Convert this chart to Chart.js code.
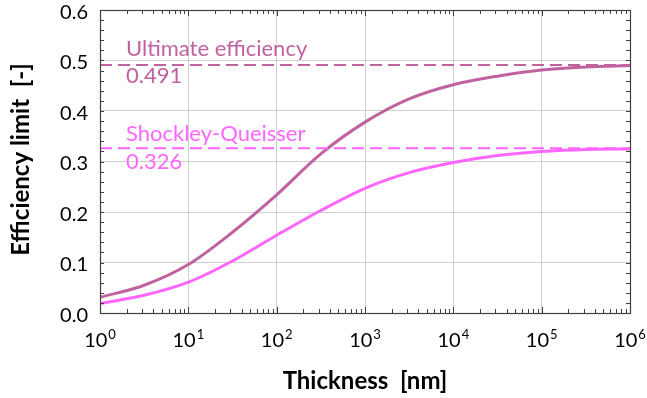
<!DOCTYPE html>
<html>
<head>
<meta charset="utf-8">
<script src="https://cdn.jsdelivr.net/npm/chart.js@4"></script>
<style>
  html, body { margin: 0; padding: 0; background: #fff; }
  canvas { display: block; }
</style>
</head>
<body>
<canvas id="chart" width="647" height="398"></canvas>
<script>
// thickness in nm (log axis), efficiency limits
const thickness = [1, 3.16, 10, 31.6, 100, 316, 1000, 3162, 10000, 31623, 100000, 316228, 1000000];
const ultimate = [0.031, 0.055, 0.096, 0.160, 0.234, 0.315, 0.378, 0.424, 0.452, 0.469, 0.481, 0.487, 0.490];
const shockley = [0.019, 0.035, 0.061, 0.103, 0.154, 0.203, 0.247, 0.278, 0.298, 0.312, 0.320, 0.324, 0.325];

const ultimateLimit = 0.491;
const sqLimit = 0.326;
const limitLabels = ["Ultimate efficiency", "Shockley-Queisser"];

const xExponents = [0, 1, 2, 3, 4, 5, 6];
const yTicks = [0, 0.1, 0.2, 0.3, 0.4, 0.5, 0.6];

const colUlt = '#c0629f';
const colSQ = '#ff66ff';
const font = 'Lato, "Open Sans", sans-serif';

const xRange = [thickness[0], thickness[thickness.length - 1]];

// axis labels, box, inward ticks and limit captions
const decorations = {
    id: 'decorations',
    afterDraw(chart) {
        const ctx = chart.ctx;
        const xs = chart.scales.x, ys = chart.scales.y;
        const a = chart.chartArea;
        ctx.save();

        // inward minor ticks
        ctx.strokeStyle = '#404040';
        ctx.lineWidth = 1;
        ctx.beginPath();
        for (let v = 0; v <= 0.6001; v += 0.02) {
            const y = Math.round(ys.getPixelForValue(v)) + 0.5;
            ctx.moveTo(a.left, y); ctx.lineTo(a.left + 4, y);
            ctx.moveTo(a.right, y); ctx.lineTo(a.right - 4, y);
        }
        for (let k = 0; k < xExponents.length - 1; k++) {
            for (let m = 1; m <= 9; m++) {
                const x = Math.round(xs.getPixelForValue(m * Math.pow(10, k))) + 0.5;
                const len = m === 1 ? 6 : 4;
                ctx.moveTo(x, a.bottom); ctx.lineTo(x, a.bottom - len);
                ctx.moveTo(x, a.top); ctx.lineTo(x, a.top + len);
            }
        }
        ctx.stroke();

        // box
        ctx.strokeStyle = '#404040';
        ctx.lineWidth = 1.2;
        ctx.strokeRect(Math.round(a.left) + 0.5, Math.round(a.top) + 0.5,
            Math.round(a.right - a.left), Math.round(a.bottom - a.top));

        // y tick labels
        ctx.fillStyle = '#000';
        ctx.font = '20px ' + font;
        ctx.textAlign = 'right';
        ctx.textBaseline = 'alphabetic';
        yTicks.forEach(v => {
            ctx.fillText(v.toFixed(1), a.left - 12, ys.getPixelForValue(v) + 8.5);
        });

        // x tick labels: 10 with superscript exponent
        xExponents.forEach(e => {
            const x = xs.getPixelForValue(Math.pow(10, e));
            ctx.font = '20px ' + font;
            const wb = ctx.measureText('10').width;
            ctx.font = '13px ' + font;
            const we = ctx.measureText(String(e)).width;
            const x0 = x - (wb + we + 1) / 2;
            ctx.textAlign = 'left';
            ctx.font = '20px ' + font;
            ctx.fillText('10', x0, a.bottom + 34);
            ctx.font = '13px ' + font;
            ctx.fillText(String(e), x0 + wb + 1, a.bottom + 26);
        });

        // axis titles
        ctx.font = 'bold 24px ' + font;
        ctx.textAlign = 'center';
        ctx.fillText('Thickness  [nm]', (a.left + a.right) / 2, 389);
        ctx.save();
        ctx.translate(29, (a.top + a.bottom) / 2 - 2);
        ctx.rotate(-Math.PI / 2);
        ctx.fillText('Efficiency limit  [-]', 0, 0);
        ctx.restore();

        // limit captions
        ctx.font = '22px ' + font;
        ctx.textAlign = 'left';
        const tx = a.left + 26;
        const yU = ys.getPixelForValue(ultimateLimit);
        const yS = ys.getPixelForValue(sqLimit);
        ctx.fillStyle = colUlt;
        ctx.fillText(limitLabels[0], tx, yU - 9);
        ctx.fillText(ultimateLimit.toFixed(3), tx, yU + 18);
        ctx.fillStyle = colSQ;
        ctx.fillText(limitLabels[1], tx, yS - 7);
        ctx.fillText(sqLimit.toFixed(3), tx, yS + 21);

        ctx.restore();
    }
};

new Chart(document.getElementById('chart'), {
    type: 'line',
    data: {
        datasets: [
            {
                label: 'Ultimate limit',
                data: xRange.map(x => ({ x: x, y: ultimateLimit })),
                borderColor: colUlt, borderWidth: 2, borderDash: [12, 6],
                pointRadius: 0
            },
            {
                label: 'SQ limit',
                data: xRange.map(x => ({ x: x, y: sqLimit })),
                borderColor: colSQ, borderWidth: 2, borderDash: [12, 6],
                pointRadius: 0
            },
            {
                label: 'Ultimate efficiency',
                data: thickness.map((x, i) => ({ x: x, y: ultimate[i] })),
                borderColor: colUlt, borderWidth: 3,
                pointRadius: 0, cubicInterpolationMode: 'monotone'
            },
            {
                label: 'Shockley-Queisser',
                data: thickness.map((x, i) => ({ x: x, y: shockley[i] })),
                borderColor: colSQ, borderWidth: 3,
                pointRadius: 0, cubicInterpolationMode: 'monotone'
            }
        ]
    },
    options: {
        responsive: false,
        animation: false,
        devicePixelRatio: 1,
        layout: { padding: { left: 100, right: 17, top: 10, bottom: 85 } },
        plugins: { legend: { display: false }, tooltip: { enabled: false } },
        scales: {
            x: {
                type: 'logarithmic',
                min: xRange[0], max: xRange[1],
                afterBuildTicks: s => { s.ticks = xExponents.map(e => ({ value: Math.pow(10, e) })); },
                ticks: { display: false },
                grid: { color: '#cfcfcf', lineWidth: 1, drawTicks: false },
                border: { display: false }
            },
            y: {
                min: 0, max: 0.6,
                afterBuildTicks: s => { s.ticks = yTicks.map(v => ({ value: v })); },
                ticks: { display: false },
                grid: { color: '#cfcfcf', lineWidth: 1, drawTicks: false },
                border: { display: false }
            }
        }
    },
    plugins: [decorations]
});
</script>
</body>
</html>
